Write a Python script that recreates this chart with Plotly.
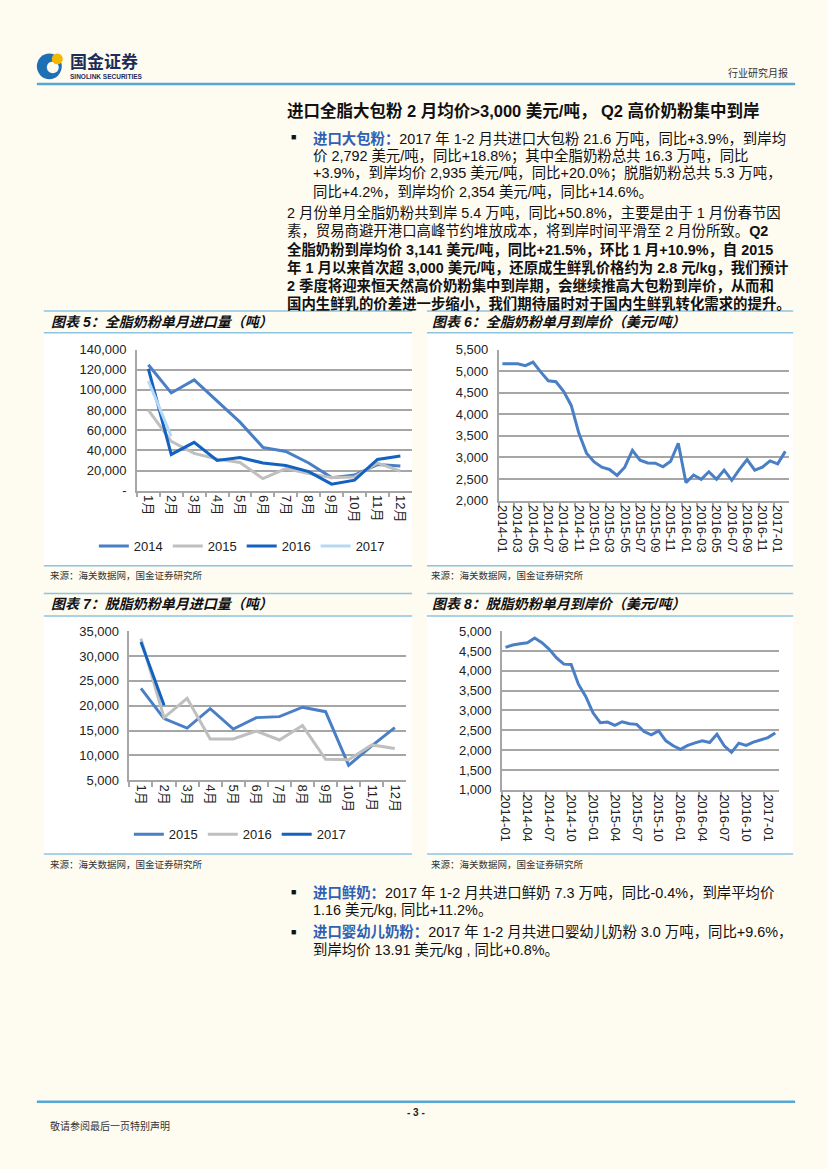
import plotly.graph_objects as go

# The page body keeps its default 8px margin, so the figure is 16px smaller than the
# 827x1169 window and page pixel p maps to figure pixel p - 8.
PAGE_W, PAGE_H = 827, 1169
OFF = 8
W, H = PAGE_W - 2 * OFF, PAGE_H - 2 * OFF
FONT = "Liberation Sans, 'Noto Sans CJK SC', sans-serif"
BG = "#fefbf1"


def X(px):
    return (px - OFF) / W


def Y(py):
    return 1 - (py - OFF) / H


# ---------------- data ----------------
months = ["1月", "2月", "3月", "4月", "5月", "6月", "7月", "8月", "9月", "10月", "11月", "12月"]

# 图表5 全脂奶粉单月进口量（吨）
wmp_vol_2014 = [125000, 97000, 110000, 89000, 68000, 43000, 39000, 27500, 13000, 15500, 26000, 24500]
wmp_vol_2015 = [80000, 49000, 37000, 31500, 28000, 12000, 22000, 17000, 13000, 13500, 27500, 19500]
wmp_vol_2016 = [121000, 36000, 48000, 30000, 33000, 27500, 25000, 19000, 6500, 10500, 31000, 34500]
wmp_vol_2017 = [109000, 54000]
vol_ticks = [0, 20000, 40000, 60000, 80000, 100000, 120000, 140000]
vol_ticktext = ["-", "20,000", "40,000", "60,000", "80,000", "100,000", "120,000", "140,000"]

# 月份（2014-01 至 2017-02）
ym = ["2014-01", "2014-02", "2014-03", "2014-04", "2014-05", "2014-06", "2014-07", "2014-08",
      "2014-09", "2014-10", "2014-11", "2014-12", "2015-01", "2015-02", "2015-03", "2015-04",
      "2015-05", "2015-06", "2015-07", "2015-08", "2015-09", "2015-10", "2015-11", "2015-12",
      "2016-01", "2016-02", "2016-03", "2016-04", "2016-05", "2016-06", "2016-07", "2016-08",
      "2016-09", "2016-10", "2016-11", "2016-12", "2017-01", "2017-02"]

# 图表6 全脂奶粉单月到岸价（美元/吨）
wmp_price = [5173, 5180, 5173, 5127, 5210, 4983, 4777, 4754, 4533, 4206, 3560, 3100,
             2896, 2775, 2722, 2585, 2775, 3164, 2935, 2874, 2867, 2783, 2912, 3330,
             2418, 2593, 2494, 2669, 2494, 2707, 2471, 2722, 2950, 2707, 2775, 2920,
             2852, 3141]

# 图表7 脱脂奶粉单月进口量（吨）
smp_vol_2015 = [23500, 17400, 15500, 19400, 15300, 17600, 17800, 19700, 18800, 8000, 11900, 15600]
smp_vol_2016 = [33500, 17600, 21500, 13300, 13300, 14900, 13100, 16000, 9200, 9100, 12100, 11400]
smp_vol_2017 = [32800, 20100]

# 图表8 脱脂奶粉单月到岸价（美元/吨）
smp_price = [4593, 4651, 4684, 4709, 4826, 4709, 4543, 4327, 4169, 4161, 3663, 3355,
             2940, 2691, 2708, 2625, 2716, 2666, 2650, 2467, 2384, 2484, 2234, 2110,
             2018, 2118, 2184, 2234, 2193, 2400, 2110, 1944, 2176, 2118, 2201, 2267,
             2317, 2434]

# ---------------- styles ----------------
C_MID = "#4a7fc6"
C_GRAY = "#bfbfbf"
C_DARK = "#1462c0"
C_LIGHT = "#b5d8f5"
GRID = "#a6a6a6"
LW = 3

fig = go.Figure()


def line(x, y, color, name, xa, ya, legend=None, show=True):
    fig.add_trace(go.Scatter(
        x=x, y=y, mode="lines", name=name,
        line=dict(color=color, width=LW),
        xaxis=xa, yaxis=ya,
        showlegend=show, legend=legend, hoverinfo="skip"))


line(months, wmp_vol_2014, C_MID, "2014", "x", "y", "legend")
line(months, wmp_vol_2015, C_GRAY, "2015", "x", "y", "legend")
line(months, wmp_vol_2016, C_DARK, "2016", "x", "y", "legend")
line(months[:len(wmp_vol_2017)], wmp_vol_2017, C_LIGHT, "2017", "x", "y", "legend")

line(ym, wmp_price, C_MID, "全脂奶粉到岸价", "x2", "y2", show=False)

line(months, smp_vol_2015, C_MID, "2015", "x3", "y3", "legend2")
line(months, smp_vol_2016, C_GRAY, "2016", "x3", "y3", "legend2")
line(months[:len(smp_vol_2017)], smp_vol_2017, C_DARK, "2017", "x3", "y3", "legend2")

line(ym, smp_price, C_MID, "脱脂奶粉到岸价", "x4", "y4", show=False)


def xax(dom, anchor, n, dtick=1):
    return dict(domain=[X(dom[0]), X(dom[1])], anchor=anchor, type="category",
                range=[-0.5, n - 0.5], dtick=dtick, tickson="boundaries",
                showgrid=False, showline=True, linecolor=GRID, linewidth=1.5,
                ticks="outside", ticklen=5, tickcolor=GRID, tickwidth=1.5,
                tickangle=90, tickfont=dict(family=FONT, size=13, color="#222"),
                zeroline=False, fixedrange=True)


def yax(dom, anchor, rng, dtick, tickvals=None, ticktext=None):
    d = dict(domain=[Y(dom[0]), Y(dom[1])], anchor=anchor, range=rng, dtick=dtick,
             showgrid=True, gridcolor=GRID, gridwidth=1.5, showline=True,
             linecolor=GRID, linewidth=1.5, ticks="", tickformat=",d",
             ticklabelstandoff=6,
             tickfont=dict(family=FONT, size=13, color="#222"),
             zeroline=False, fixedrange=True)
    if tickvals is not None:
        d.update(tickmode="array", tickvals=tickvals, ticktext=ticktext)
    return d


layout = dict(
    width=W, height=H, margin=dict(l=0, r=0, t=0, b=0),
    paper_bgcolor=BG, plot_bgcolor="rgba(0,0,0,0)",
    xaxis=xax((133.5, 409.8), "y", len(months)),
    yaxis=yax((490, 347), "x", [0, 140000], 20000, vol_ticks, vol_ticktext),
    xaxis2=xax((497, 789), "y2", len(ym), 2),
    yaxis2=yax((500, 347), "x2", [2000, 5500], 500),
    xaxis3=xax((126, 404.3), "y3", len(months)),
    yaxis3=yax((783.3, 632.3), "x3", [5000, 35000], 5000),
    xaxis4=xax((500.3, 778.7), "y4", len(ym), 3),
    yaxis4=yax((793, 632.3), "x4", [1000, 5000], 500),
    legend=dict(orientation="h", x=X(239), xanchor="center", y=Y(546), yanchor="middle",
                font=dict(family=FONT, size=13, color="#222"), bgcolor="rgba(0,0,0,0)",
                itemwidth=30, tracegroupgap=0),
    legend2=dict(orientation="h", x=X(237), xanchor="center", y=Y(838), yanchor="middle",
                 font=dict(family=FONT, size=13, color="#222"), bgcolor="rgba(0,0,0,0)",
                 itemwidth=30, tracegroupgap=0),
)
fig.update_layout(**layout)

shapes = []
ann = []


def hline(x0, x1, y, color, w):
    shapes.append(dict(type="line", xref="paper", yref="paper", x0=X(x0), x1=X(x1),
                       y0=Y(y), y1=Y(y), line=dict(color=color, width=w)))


def rect(x0, y0, x1, y1, fill):
    shapes.append(dict(type="rect", xref="paper", yref="paper", x0=X(x0), x1=X(x1),
                       y0=Y(y1), y1=Y(y0), fillcolor=fill, line=dict(width=0), layer="below"))


def circ(x0, y0, x1, y1, fill):
    shapes.append(dict(type="circle", xref="paper", yref="paper", x0=X(x0), x1=X(x1),
                       y0=Y(y1), y1=Y(y0), fillcolor=fill, line=dict(width=0), layer="above"))


def text(x, y, s, size=14, color="#111", anchor="left"):
    ann.append(dict(x=X(x), y=Y(y), xref="paper", yref="paper", text=s, showarrow=False,
                    xanchor=anchor, yanchor="middle", align=anchor,
                    font=dict(family=FONT, size=size, color=color)))


# header / logo
circ(33, 47, 58, 73, "#1f6fb4")
circ(43, 55, 55, 67, BG)
circ(48, 47, 59, 58, "#f3b700")
text(64, 56, "<b>国金证券</b>", 17, "#1c2d5a")
text(64, 70, "<b>SINOLINK SECURITIES</b>", 6.5, "#1c2d5a")
text(790, 67, "行业研究月报", 10, "#333", "right")
hline(33, 795, 78, "#56a7d3", 2.5)

# heading & paragraphs
text(282, 105, "<b>进口全脂大包粉 2 月均价&gt;3,000 美元/吨， Q2 高价奶粉集中到岸</b>", 16.5)
BLUE = "#2f60b3"
text(286, 132, "■", 9)
p1 = [
    f"<b><span style='color:{BLUE}'>进口大包粉：</span></b>2017 年 1-2 月共进口大包粉 21.6 万吨，同比+3.9%，到岸均",
    "价 2,792 美元/吨，同比+18.8%；其中全脂奶粉总共 16.3 万吨，同比",
    "+3.9%，到岸均价 2,935 美元/吨，同比+20.0%；脱脂奶粉总共 5.3 万吨，",
    "同比+4.2%，到岸均价 2,354 美元/吨，同比+14.6%。",
]
for i, s in enumerate(p1):
    text(308, 133 + i * 18, s, 14.4)

p2 = [
    "2 月份单月全脂奶粉共到岸 5.4 万吨，同比+50.8%，主要是由于 1 月份春节因",
    "素，贸易商避开港口高峰节约堆放成本，将到岸时间平滑至 2 月份所致。<b>Q2</b>",
    "<b>全脂奶粉到岸均价 3,141 美元/吨，同比+21.5%，环比 1 月+10.9%，自 2015</b>",
    "<b>年 1 月以来首次超 3,000 美元/吨，还原成生鲜乳价格约为 2.8 元/kg，我们预计</b>",
    "<b>2 季度将迎来恒天然高价奶粉集中到岸期，会继续推高大包粉到岸价，从而和</b>",
    "<b>国内生鲜乳的价差进一步缩小，我们期待届时对于国内生鲜乳转化需求的提升。</b>",
]
for i, s in enumerate(p2):
    text(282, 208.5 + i * 18.4, s, 14.4)

# chart frames
for (x0, x1) in [(40, 410), (425, 793)]:
    rect(x0, 330, x1, 566, "#ffffff")
    rect(x0, 617, x1, 858, "#ffffff")
    hline(x0, x1, 308, "#8cc4e2", 1.5)
    hline(x0, x1, 330, "#8cc4e2", 1.5)
    hline(x0, x1, 566, "#8cc4e2", 1.5)
    hline(x0, x1, 594, "#8cc4e2", 1.5)
    hline(x0, x1, 617, "#8cc4e2", 1.5)
    hline(x0, x1, 858, "#8cc4e2", 1.5)

text(45, 319, "<b><i>图表 5：全脂奶粉单月进口量（吨）</i></b>", 14)
text(428, 319, "<b><i>图表 6：全脂奶粉单月到岸价（美元/吨）</i></b>", 14)
text(45, 605, "<b><i>图表 7：脱脂奶粉单月进口量（吨）</i></b>", 14)
text(428, 605, "<b><i>图表 8：脱脂奶粉单月到岸价（美元/吨）</i></b>", 14)
SRC = "来源：海关数据网，国金证券研究所"
text(44, 576, SRC, 9.5, "#333")
text(427, 576, SRC, 9.5, "#333")
text(44, 869, SRC, 9.5, "#333")
text(427, 869, SRC, 9.5, "#333")

# bottom bullets
text(286, 897, "■", 9)
text(308, 897, f"<b><span style='color:{BLUE}'>进口鲜奶：</span></b>2017 年 1-2 月共进口鲜奶 7.3 万吨，同比-0.4%，到岸平均价", 14.4)
text(308, 915, "1.16 美元/kg, 同比+11.2%。", 14.4)
text(286, 937, "■", 9)
text(308, 937, f"<b><span style='color:{BLUE}'>进口婴幼儿奶粉：</span></b>2017 年 1-2 月共进口婴幼儿奶粉 3.0 万吨，同比+9.6%，", 14.4)
text(308, 955, "到岸均价 13.91 美元/kg , 同比+0.8%。", 14.4)

# footer
hline(33, 795, 1109, "#56a7d3", 2.5)
text(414, 1120, "<b>- 3 -</b>", 10, "#222", "center")
text(44, 1134, "敬请参阅最后一页特别声明", 10, "#333")

fig.update_layout(shapes=shapes, annotations=ann)
fig.write_html(
    "out.html",
    config={"displayModeBar": False},
    post_script=f"document.body.style.background='{BG}';",
)
